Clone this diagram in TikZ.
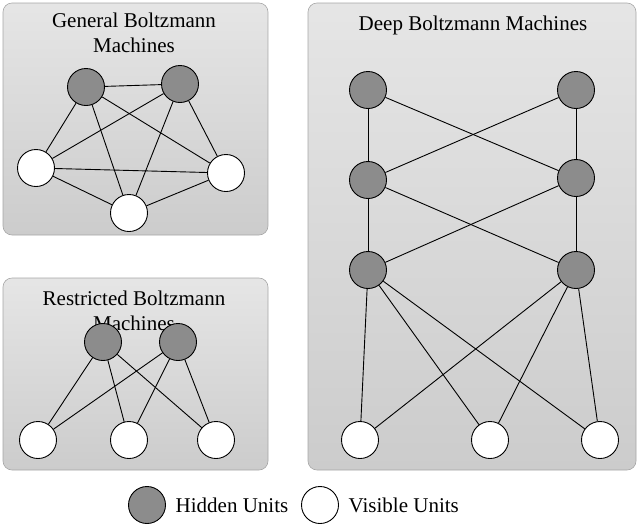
\documentclass[tikz,border=0pt]{standalone}
\usepackage{fontspec}
\setmainfont{Liberation Serif}
\begin{document}
\begin{tikzpicture}[x=1pt,y=-1pt,line width=0.9pt,
  panel/.style={draw=gray!70,line width=0.6pt,rounded corners=9pt,top color=gray!20,bottom color=gray!40},
  hid/.style={circle,draw,fill=gray!90,minimum size=37pt,inner sep=0pt},
  vis/.style={circle,draw,fill=white,minimum size=37pt,inner sep=0pt},
  lbl/.style={align=center,font=\fontsize{21}{25}\selectfont}]
  \useasboundingbox (0,0) rectangle (640,523);
  % panels
  \draw[panel] (3,3) rectangle (268,235);
  \draw[panel] (3,278) rectangle (268,470);
  \draw[panel] (308,3) rectangle (636,470);
  \node[lbl] at (134,33) {General Boltzmann\\Machines};
  \node[lbl] at (134,311) {Restricted Boltzmann\\Machines};
  \node[lbl] at (473,25) {Deep Boltzmann Machines};
  % general
  \node[hid] (g1) at (86,87) {};
  \node[hid] (g2) at (180,84) {};
  \node[vis] (g3) at (36,168) {};
  \node[vis] (g4) at (226,173) {};
  \node[vis] (g5) at (129,213) {};
  \foreach \a/\b in {g1/g2,g1/g3,g1/g4,g1/g5,g2/g3,g2/g4,g2/g5,g3/g4,g3/g5,g4/g5}
    \draw (\a) -- (\b);
  % restricted
  \node[hid] (r1) at (103,342) {};
  \node[hid] (r2) at (178,342) {};
  \node[vis] (r3) at (38,440) {};
  \node[vis] (r4) at (129,440) {};
  \node[vis] (r5) at (216,440) {};
  \foreach \a in {r1,r2}
    \foreach \b in {r3,r4,r5}
      \draw (\a) -- (\b);
  % deep
  \node[hid] (d1) at (368,90) {};
  \node[hid] (d2) at (576,90) {};
  \node[hid] (d3) at (368,180) {};
  \node[hid] (d4) at (576,178) {};
  \node[hid] (d5) at (368,270) {};
  \node[hid] (d6) at (576,270) {};
  \node[vis] (d7) at (360,440) {};
  \node[vis] (d8) at (490,440) {};
  \node[vis] (d9) at (600,440) {};
  \foreach \a/\b in {d1/d3,d1/d4,d2/d3,d2/d4,d3/d5,d3/d6,d4/d5,d4/d6}
    \draw (\a) -- (\b);
  \foreach \a in {d5,d6}
    \foreach \b in {d7,d8,d9}
      \draw (\a) -- (\b);
  % legend
  \node[hid] (kh) at (147,505) {};
  \node[lbl,right=6pt] at (kh.east) {Hidden Units};
  \node[vis] (kv) at (320,505) {};
  \node[lbl,right=6pt] at (kv.east) {Visible Units};
\end{tikzpicture}
\end{document}
